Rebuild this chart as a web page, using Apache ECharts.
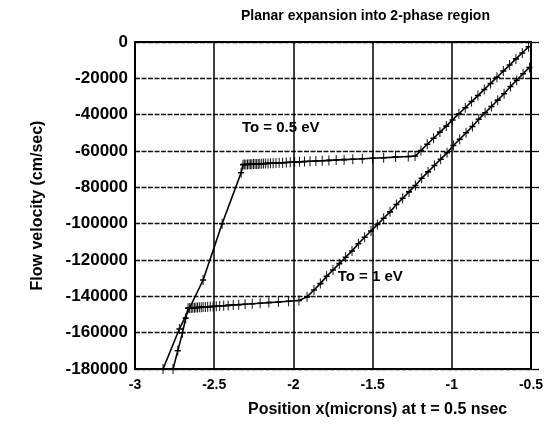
<!DOCTYPE html>
<html>
<head>
<meta charset="utf-8">
<script src="https://cdn.jsdelivr.net/npm/echarts@6/dist/echarts.min.js"></script>
<style>
  html, body { margin: 0; padding: 0; background: #fff; }
  #chart { width: 550px; height: 424px; }
</style>
</head>
<body>
<div id="chart"></div>
<script>
// Flow velocity profiles, planar expansion into the 2-phase region (t = 0.5 nsec)
const xTicks = [-3, -2.5, -2, -1.5, -1, -0.5];
const yTicks = [0, -20000, -40000, -60000, -80000, -100000, -120000, -140000, -160000, -180000];

// To = 0.5 eV : position (microns) and flow velocity (cm/sec)
const posHalfEV = [
  -2.823, -2.72, -2.57, -2.45, -2.33, -2.318,
  -2.310, -2.300, -2.290, -2.280, -2.270, -2.262, -2.252, -2.242, -2.232, -2.222,
  -2.212, -2.200, -2.188, -2.175, -2.160, -2.145, -2.128, -2.110, -2.090, -2.068,
  -2.045, -2.020, -1.992, -1.962, -1.930, -1.895, -1.858, -1.818, -1.776, -1.730,
  -1.680, -1.625, -1.565, -1.500, -1.430, -1.355, -1.275,
  -1.232, -1.195, -1.155, -1.115, -1.075, -1.035, -0.995, -0.955, -0.915, -0.875,
  -0.835, -0.795, -0.755, -0.715, -0.675, -0.635, -0.595, -0.555, -0.515
];
const velHalfEV = [
  -180000, -158000, -131000, -100000, -72000, -67500,
  -67470, -67420, -67380, -67340, -67290, -67260, -67220, -67170, -67130, -67090,
  -67040, -66990, -66940, -66890, -66820, -66760, -66680, -66610, -66520, -66430,
  -66330, -66220, -66100, -65970, -65830, -65680, -65520, -65350, -65170, -64970,
  -64760, -64520, -64260, -63980, -63680, -63360, -63010,
  -62800, -59700, -56300, -53000, -49600, -46300, -42900, -39500, -36200, -32800,
  -29500, -26100, -22800, -19400, -16000, -12700, -9300, -6000, -2600
];

// To = 1 eV : position (microns) and flow velocity (cm/sec)
const posOneEV = [
  -2.760, -2.730, -2.700, -2.680, -2.665,
  -2.655, -2.645, -2.635, -2.625, -2.615, -2.605, -2.594, -2.582, -2.570, -2.556,
  -2.541, -2.525, -2.507, -2.487, -2.465, -2.440, -2.412, -2.380, -2.345, -2.305,
  -2.260, -2.210, -2.155, -2.095, -2.030, -1.965,
  -1.914, -1.870, -1.830, -1.790, -1.750, -1.710, -1.670, -1.630, -1.590, -1.550,
  -1.510, -1.470, -1.430, -1.390, -1.350, -1.310, -1.270, -1.230, -1.190, -1.150,
  -1.110, -1.070, -1.030, -0.990, -0.950, -0.910, -0.870, -0.830, -0.790, -0.750,
  -0.710, -0.670, -0.630, -0.590, -0.550, -0.510
];
const velOneEV = [
  -180000, -170000, -160000, -152000, -146500,
  -146440, -146380, -146320, -146260, -146200, -146140, -146070, -146000, -145930, -145850,
  -145760, -145660, -145550, -145430, -145300, -145150, -144980, -144790, -144580, -144340,
  -144070, -143770, -143440, -143080, -142690, -142300,
  -140300, -136500, -133000, -129000, -125500, -122000, -118500, -115000, -111000, -107500,
  -104000, -100500, -97000, -93500, -89500, -86000, -82500, -79000, -75000, -71500,
  -68000, -64500, -61000, -57000, -53500, -50000, -46500, -42500, -39000, -35500,
  -32000, -28500, -24500, -21000, -17500, -14000
];

// Curve labels and where they sit (data coordinates)
const curveLabels = ['To = 0.5 eV', 'To = 1 eV'];
const curveLabelAt = [[-2.08, -47300], [-1.515, -129400]];

const FONT = '"Liberation Sans", Arial, sans-serif';
const CROSS = 'path://M5,0L5,10M0,5L10,5';

function pairs(xs, ys) { return xs.map((x, i) => [x, ys[i]]); }

function curve(name, xs, ys, labelIdx) {
  return {
    name: name,
    type: 'line',
    data: pairs(xs, ys),
    showAllSymbol: true,
    symbol: CROSS,
    symbolSize: [6, 10],
    symbolKeepAspect: false,
    lineStyle: { color: '#000', width: 1.6 },
    itemStyle: { color: '#000', borderColor: '#000', borderWidth: 1.2 },
    animation: false,
    markPoint: {
      symbol: 'circle',
      symbolSize: 1,
      silent: true,
      itemStyle: { color: 'rgba(0,0,0,0)', borderWidth: 0 },
      data: [{
        coord: curveLabelAt[labelIdx],
        label: {
          show: true,
          formatter: curveLabels[labelIdx],
          color: '#000',
          fontFamily: FONT,
          fontWeight: 'bold',
          fontSize: 15,
          position: 'inside'
        }
      }]
    }
  };
}

const chart = echarts.init(document.getElementById('chart'), null, { renderer: 'canvas' });
chart.setOption({
  animation: false,
  backgroundColor: '#fff',
  title: [
    {
      text: 'Planar expansion into 2-phase region',
      left: 236, top: 4,
      textStyle: { fontFamily: FONT, fontWeight: 'bold', fontSize: 14, color: '#000' }
    },
    {
      text: 'Position x(microns) at t = 0.5 nsec',
      left: 243, top: 397,
      textStyle: { fontFamily: FONT, fontWeight: 'bold', fontSize: 16, color: '#000' }
    }
  ],
  grid: {
    left: 135, right: 19, top: 42, bottom: 55,
    show: true, borderColor: '#000', borderWidth: 2, backgroundColor: 'transparent'
  },
  xAxis: {
    type: 'value',
    min: xTicks[0], max: xTicks[xTicks.length - 1], interval: 0.5,
    axisLine: { show: true, lineStyle: { color: '#000', width: 2 } },
    axisTick: { show: false },
    axisLabel: {
      color: '#000', fontFamily: FONT, fontWeight: 'bold', fontSize: 14, margin: 9,
      formatter: v => String(v)
    },
    splitLine: { show: true, lineStyle: { color: '#000', width: 1.5 } }
  },
  yAxis: [
    {
      type: 'value',
      min: yTicks[yTicks.length - 1], max: yTicks[0], interval: 20000,
      name: 'Flow velocity (cm/sec)',
      nameLocation: 'middle', nameGap: 89, nameRotate: 90,
      nameTextStyle: { fontFamily: FONT, fontWeight: 'bold', fontSize: 16, color: '#000' },
      axisLine: { show: true, lineStyle: { color: '#000', width: 2 } },
      axisTick: { show: false },
      axisLabel: {
        color: '#000', fontFamily: FONT, fontWeight: 'bold', fontSize: 17, margin: 7,
        formatter: v => String(v)
      },
      splitLine: { show: true, lineStyle: { color: '#111', width: 1.3, type: [5, 1.5] } }
    },
    {
      type: 'value', position: 'right',
      min: yTicks[yTicks.length - 1], max: yTicks[0], interval: 20000,
      axisLine: { show: false },
      axisTick: { show: true, inside: false, length: 8, lineStyle: { color: '#000', width: 1.3 } },
      axisLabel: { show: false },
      splitLine: { show: false }
    }
  ],
  series: [
    curve('To = 0.5 eV', posHalfEV, velHalfEV, 0),
    curve('To = 1 eV', posOneEV, velOneEV, 1)
  ]
});
</script>
</body>
</html>
